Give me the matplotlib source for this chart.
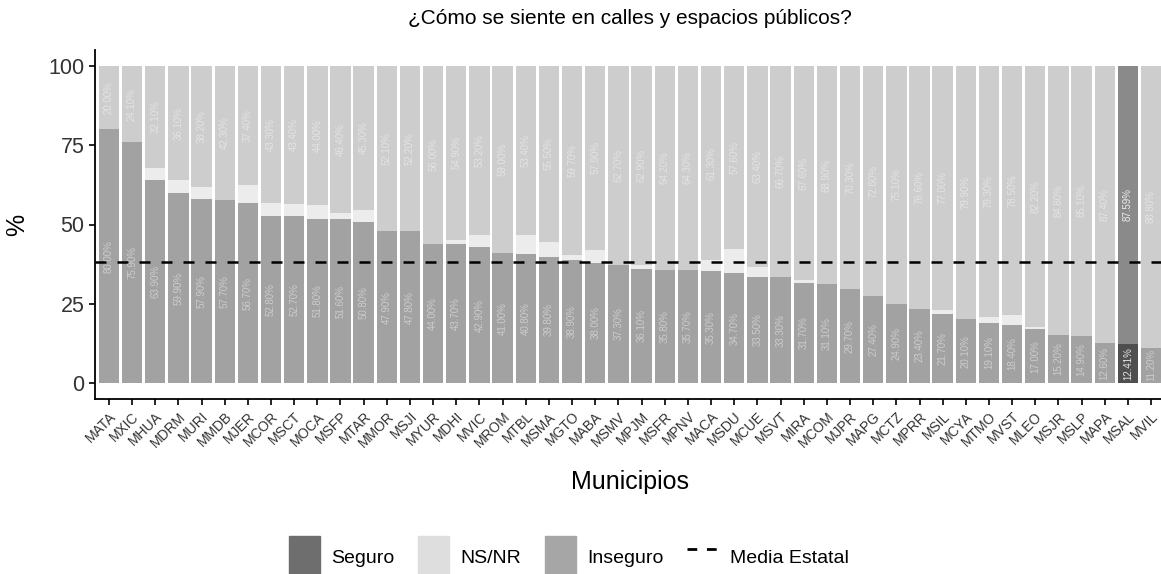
import matplotlib
matplotlib.use("Agg")
import matplotlib.pyplot as plt
from matplotlib.patches import Patch
from matplotlib.lines import Line2D

plt.rcParams['font.family'] = ['Liberation Sans', 'DejaVu Sans']

# Datos
municipios = ['MATA', 'MXIC', 'MHUA', 'MDRM', 'MURI', 'MMDB', 'MJER', 'MCOR', 'MSCT', 'MOCA',
              'MSFP', 'MTAR', 'MMOR', 'MSJI', 'MYUR', 'MDHI', 'MVIC', 'MROM', 'MTBL', 'MSMA',
              'MGTO', 'MABA', 'MSMV', 'MPJM', 'MSFR', 'MPNV', 'MACA', 'MSDU', 'MCUE', 'MSVT',
              'MIRA', 'MCOM', 'MJPR', 'MAPG', 'MCTZ', 'MPRR', 'MSIL', 'MCYA', 'MTMO', 'MVST',
              'MLEO', 'MSJR', 'MSLP', 'MAPA', 'MSAL', 'MVIL']
seguro = [80.0, 75.9, 63.9, 59.9, 57.9, 57.7, 56.7, 52.8, 52.7, 51.8,
          51.6, 50.8, 47.9, 47.8, 44.0, 43.7, 42.9, 41.0, 40.8, 39.8,
          38.9, 38.0, 37.3, 36.1, 35.8, 35.7, 35.3, 34.7, 33.5, 33.3,
          31.7, 31.1, 29.7, 27.4, 24.9, 23.4, 21.7, 20.1, 19.1, 18.4,
          17.0, 15.2, 14.9, 12.6, 12.41, 11.2]
nsnr = [0.0, 0.0, 4.0, 4.0, 3.9, 0.0, 5.9, 3.9, 3.9, 4.2,
        2.0, 3.9, 0.0, 0.0, 0.0, 1.4, 3.9, 0.0, 5.8, 4.7,
        1.4, 4.1, 0.0, 1.0, 0.0, 0.0, 3.4, 7.7, 3.1, 0.0,
        0.7, 0.0, 0.0, 0.0, 0.0, 0.0, 1.3, 0.0, 1.6, 3.1,
        0.8, 0.0, 0.0, 0.0, 0.0, 0.0]
inseguro = [20.0, 24.1, 32.1, 36.1, 38.2, 42.3, 37.4, 43.3, 43.4, 44.0,
            46.4, 45.3, 52.1, 52.2, 56.0, 54.9, 53.2, 59.0, 53.4, 55.5,
            59.7, 57.9, 62.7, 62.9, 64.2, 64.3, 61.3, 57.6, 63.4, 66.7,
            67.6, 68.9, 70.3, 72.6, 75.1, 76.6, 77.0, 79.9, 79.3, 78.5,
            82.2, 84.8, 85.1, 87.4, 87.59, 88.8]
media_estatal = 38.2
destacado = 'MSAL'

# colores (tenue para los demas municipios, fuerte para el destacado)
col_tenue = ['#a2a2a2', '#ececec', '#cdcdcd']
col_fuerte = ['#4f4f4f', '#d6d6d6', '#8a8a8a']
col_leyenda = ['#6e6e6e', '#dedede', '#a6a6a6']

fig = plt.figure(figsize=(11.61, 5.74), dpi=100)
ax = fig.add_axes([95 / 1161, 1 - 399 / 574, 1070 / 1161, 349 / 574])

x = list(range(len(municipios)))
for i, m in enumerate(municipios):
    cols = col_fuerte if m == destacado else col_tenue
    a = 0.85 if m == destacado else 0.45
    ax.bar(i, seguro[i], width=0.88, color=cols[0])
    ax.bar(i, nsnr[i], width=0.88, bottom=seguro[i], color=cols[1])
    ax.bar(i, inseguro[i], width=0.88, bottom=seguro[i] + nsnr[i], color=cols[2])
    # etiquetas de porcentaje dentro de las barras
    ax.text(i, seguro[i] / 2, '%.2f%%' % seguro[i], rotation=90, ha='center', va='center',
            fontsize=7, color='white', alpha=a)
    ax.text(i, seguro[i] + nsnr[i] + inseguro[i] / 2, '%.2f%%' % inseguro[i], rotation=90,
            ha='center', va='center', fontsize=7, color='white', alpha=a)

ax.axhline(media_estatal, color='black', lw=1.8, dashes=(4.4, 4.4))

ax.set_xlim(-0.6, len(municipios) - 0.4)
ax.set_ylim(-5, 105)
ax.set_yticks([0, 25, 50, 75, 100])
ax.set_xticks(x)
ax.set_xticklabels(municipios, rotation=45, ha='right', rotation_mode='anchor',
                   fontsize=10, color='#333333')
ax.tick_params(axis='y', labelsize=15.5, labelcolor='#333333', length=4, width=1.2)
ax.tick_params(axis='x', length=4, width=1.2)
for s in ['top', 'right']:
    ax.spines[s].set_visible(False)
for s in ['left', 'bottom']:
    ax.spines[s].set_linewidth(1.3)

ax.set_title('¿Cómo se siente en calles y espacios públicos?', fontsize=15, pad=19)
ax.set_xlabel('Municipios', fontsize=18, labelpad=14)
ax.set_ylabel('%', fontsize=18, labelpad=14)

handles = [Patch(color=col_leyenda[0], label='Seguro'),
           Patch(color=col_leyenda[1], label='NS/NR'),
           Patch(color=col_leyenda[2], label='Inseguro'),
           Line2D([0], [0], color='black', lw=2, dashes=(3.5, 3.5), label='Media Estatal')]
fig.legend(handles=handles, loc='center', bbox_to_anchor=(0.49, 0.03), ncol=4,
           frameon=False, fontsize=14, handlelength=1.6, handleheight=2.9,
           columnspacing=1.2, handletextpad=0.6)

fig.savefig('out.png', dpi=100)
